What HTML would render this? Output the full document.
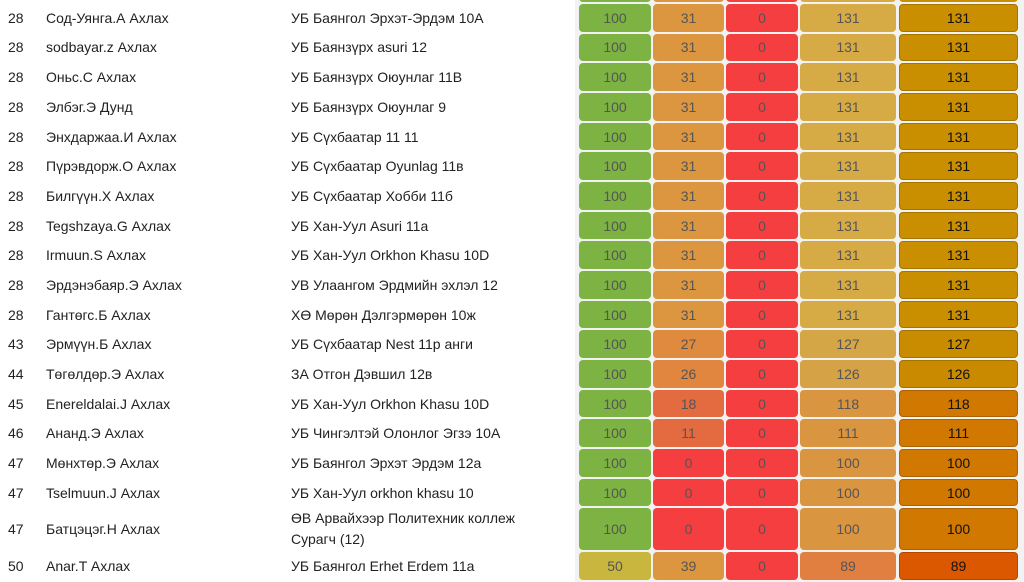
<!DOCTYPE html>
<html><head><meta charset="utf-8"><style>
body{margin:0;width:1024px;height:582px;overflow:hidden;background:#fff;font-family:"Liberation Sans",sans-serif;font-size:14px;color:#222;position:relative}
.r{position:absolute;left:0;width:1024px}
.t{position:absolute;top:0;height:100%;display:flex;align-items:center}
.c{position:absolute;border-radius:4px;display:flex;align-items:center;justify-content:center;color:#555;font-size:14px}
.c5{color:#111;border:1px solid rgba(0,0,0,.18);box-sizing:border-box}
.bg{position:absolute;left:575px;top:0;width:449px;height:582px;background:#f2f2f2}
</style></head><body>
<div class="bg"></div>
<div id="rows"></div>
<script>
(function(){
var G='#7cb342',O='#dc9640',R='#f43e40',Y='#d6ab45',C5='#c98f00';
var d=[
["28","Сод-Уянга.А Ахлах","УБ Баянгол Эрхэт-Эрдэм 10А",100,31,0,131,131,G,O,Y,C5],
["28","sodbayar.z Ахлах","УБ Баянзүрх asuri 12",100,31,0,131,131,G,O,Y,C5],
["28","Оньс.С Ахлах","УБ Баянзүрх Оюунлаг 11В",100,31,0,131,131,G,O,Y,C5],
["28","Элбэг.Э Дунд","УБ Баянзүрх Оюунлаг 9",100,31,0,131,131,G,O,Y,C5],
["28","Энхдаржаа.И Ахлах","УБ Сүхбаатар 11 11",100,31,0,131,131,G,O,Y,C5],
["28","Пүрэвдорж.О Ахлах","УБ Сүхбаатар Oyunlag 11в",100,31,0,131,131,G,O,Y,C5],
["28","Билгүүн.Х Ахлах","УБ Сүхбаатар Хобби 11б",100,31,0,131,131,G,O,Y,C5],
["28","Tegshzaya.G Ахлах","УБ Хан-Уул Asuri 11a",100,31,0,131,131,G,O,Y,C5],
["28","Irmuun.S Ахлах","УБ Хан-Уул Orkhon Khasu 10D",100,31,0,131,131,G,O,Y,C5],
["28","Эрдэнэбаяр.Э Ахлах","УВ Улаангом Эрдмийн эхлэл 12",100,31,0,131,131,G,O,Y,C5],
["28","Гантөгс.Б Ахлах","ХӨ Мөрөн Дэлгэрмөрөн 10ж",100,31,0,131,131,G,O,Y,C5],
["43","Эрмүүн.Б Ахлах","УБ Сүхбаатар Nest 11р анги",100,27,0,127,127,G,'#df8a3e','#d5a645','#c98c00'],
["44","Төгөлдөр.Э Ахлах","ЗА Отгон Дэвшил 12в",100,26,0,126,126,G,'#e0863e','#d5a345','#ca8a00'],
["45","Enereldalai.J Ахлах","УБ Хан-Уул Orkhon Khasu 10D",100,18,0,118,118,G,'#e46a3f','#da9540','#d17800'],
["46","Ананд.Э Ахлах","УБ Чингэлтэй Олонлог Эгзэ 10А",100,11,0,111,111,G,'#e46a3f','#da9540','#d17800'],
["47","Мөнхтөр.Э Ахлах","УБ Баянгол Эрхэт Эрдэм 12а",100,0,0,100,100,G,R,'#da9540','#d17800'],
["47","Tselmuun.J Ахлах","УБ Хан-Уул orkhon khasu 10",100,0,0,100,100,G,R,'#da9540','#d17800'],
["47","Батцэцэг.Н Ахлах","ӨВ Арвайхээр Политехник коллеж<br>Сурагч (12)",100,0,0,100,100,G,R,'#da9540','#d17800'],
["50","Anar.T Ахлах","УБ Баянгол Erhet Erdem 11a",50,39,0,89,89,'#c9b63e','#dc9640','#e07f40','#dc5800']];
var h='',yy=4,xs=[[579,72],[653,71],[726,72],[800,96],[899,119]];
h+='<div class="r" style="top:-26px;height:29px">'+xs.map(function(x,k){return '<div class="c" style="left:'+x[0]+'px;width:'+x[1]+'px;top:0;height:28px;background:'+[G,O,R,Y,C5][k]+'"></div>'}).join('')+'</div>';
d.forEach(function(r,i){var H=(i==17)?44:29.67;var ch=H-2;
h+='<div class="r" style="top:'+yy+'px;height:'+ch+'px"><div class="t" style="left:8px">'+r[0]+'</div><div class="t" style="left:46px">'+r[1]+'</div><div class="t" style="left:291px;'+(i==17?'line-height:21px;':'')+'">'+r[2]+'</div>';
var cols=[r[8],r[9],R,r[10],r[11]];
for(var k=0;k<5;k++)h+='<div class="c'+(k==4?' c5':'')+'" style="left:'+xs[k][0]+'px;width:'+xs[k][1]+'px;top:0;height:'+ch+'px;background:'+cols[k]+'">'+r[3+k]+'</div>';
h+='</div>';yy+=H;});
document.getElementById('rows').innerHTML=h;
})();
</script>
</body></html>
